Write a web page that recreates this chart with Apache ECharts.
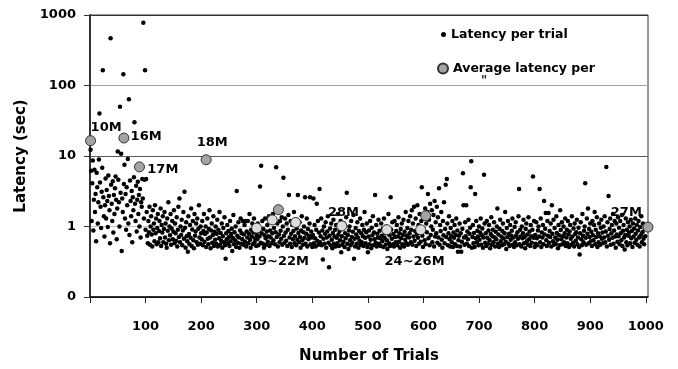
<!DOCTYPE html>
<html>
<head>
<meta charset="utf-8">
<script src="https://cdn.jsdelivr.net/npm/echarts@6/dist/echarts.min.js"></script>
<style>
html,body{margin:0;padding:0;background:#fff;}
#chart{width:678px;height:369px;}
</style>
</head>
<body>
<div id="chart"></div>
<script>
// Latency per trial (sec), trials 1..1000 in order
const latencyPerTrial = [
12.3,6.2,1.2,4.1,8.6,.88,2.4,6.4,1.6,2.9,.62,5.8,3.6,1.1,2.2,8.9,40,4.2,1.9,.95,3.1,6.8,164,2.6,1.4,
.72,2.0,4.8,1.3,3.3,2.3,.98,5.3,2.7,1.7,.58,468,3.9,2.1,1.2,4.4,.82,2.8,1.5,3.5,5.1,2.4,.66,1.8,11.6,
4.6,2.2,1.0,50,3.0,10.8,.45,2.5,1.6,144,4.0,7.5,1.3,2.9,.9,3.6,2.0,9.1,1.1,64,.76,4.5,2.3,1.4,3.2,
.6,2.6,1.7,5.0,30,2.1,1.2,3.8,.85,2.4,4.3,1.5,2.8,1.0,3.4,.7,2.2,1.9,4.7,2.5,775,1.3,4.6,164,.9,
4.7,1.6,.74,.58,1.2,.83,1.9,.55,1.0,1.4,.77,.52,1.7,.9,1.1,.62,2.0,.8,1.3,.56,.95,1.5,.6,.86,1.2,
.68,1.8,.53,1.05,.82,1.4,.6,.92,1.6,.7,1.1,.57,.5,1.3,.87,2.2,.64,1.0,.75,1.5,.55,.94,1.2,.66,.84,
1.7,.58,1.1,.8,.63,1.35,.52,.9,1.9,.71,2.5,.6,1.0,.76,1.25,.54,.88,1.6,.67,3.1,.96,.5,1.15,.73,.62,
.44,1.4,.78,.56,1.05,.69,1.8,.53,.91,1.2,.64,.49,1.5,.74,.85,1.1,.6,1.3,.55,.93,2.0,.7,.57,1.0,.8,
.66,1.2,.54,.86,1.5,.61,.78,1.0,.51,.82,1.3,.67,.56,.92,1.7,.7,.49,.88,1.1,.59,.76,1.4,.53,.84,.65,
1.0,.57,.79,1.25,.52,.9,.68,1.6,.55,.81,.63,1.1,.5,.73,.95,.6,1.35,.54,.35,.8,.66,1.05,.58,.86,.71,
.53,1.2,.62,.78,.93,.45,.69,1.45,.56,.83,.64,1.0,.51,3.2,.74,.59,1.15,.7,.5,.88,1.3,.57,.8,.66,1.2,
.55,.77,1.05,.61,1.2,.52,.85,.7,1.2,.58,.79,1.5,.65,.5,.9,.72,1.1,.56,.82,1.3,.6,.68,1.0,.53,.76,
.66,1.1,.54,.86,.72,3.7,.59,7.3,.8,1.2,.57,.92,.5,.75,1.3,.68,.55,.85,1.05,.61,.73,1.4,.53,.88,.7,
1.15,.58,.8,1.5,.64,.95,1.25,.56,.83,6.9,.71,1.1,.52,1.6,.77,.6,1.2,.87,.67,1.35,.55,1.0,4.9,.74,.59,
1.3,.82,.63,1.1,.53,.9,1.45,2.8,.7,.57,1.2,.79,.51,1.05,.66,.86,1.6,.58,.73,1.25,.54,.94,.65,2.8,.81,
.6,1.15,.71,.5,.88,1.4,.64,.55,.83,1.0,.69,2.6,.57,.79,1.3,.52,.92,.66,.74,1.1,2.6,.56,.85,.7,.51,
.76,2.5,.58,1.05,.68,.52,.9,2.1,.63,1.2,.55,.82,3.4,.6,.73,1.3,.54,.88,.34,.67,1.0,.57,.79,1.15,.5,
.7,.85,1.4,.59,.265,.74,.94,.54,1.1,.65,.49,.81,1.25,.57,.72,.9,.52,1.05,.69,.58,1.5,.77,.53,.86,.64,
1.2,.43,.73,.55,.92,.61,1.1,.51,.8,.68,1.35,3.0,.57,.76,.48,.88,1.0,.64,.54,1.2,.71,.59,.84,1.45,.35,
.67,.52,.95,.77,.57,1.15,.7,.5,.86,.63,1.3,.55,.8,.6,1.05,.73,.53,.9,1.6,.69,.58,.83,1.1,.51,.43,
.72,.88,.56,1.2,.65,.49,.96,.75,1.4,.54,.82,.66,2.8,.59,1.05,.52,.79,.7,1.25,.57,.87,.68,.53,1.1,.74,
.62,.93,.51,1.3,.69,.8,.55,1.0,.64,.48,.85,1.5,.58,.75,.53,2.6,.9,.67,1.15,.56,.78,.52,1.2,.71,.6,
.86,1.05,.54,.72,1.35,.61,.8,.5,.92,.68,1.1,.56,.76,1.25,.52,.84,.65,1.6,.58,.74,.95,.55,1.2,.7,.8,
1.4,.6,.9,1.7,.55,1.1,.72,1.9,.63,.86,1.3,.53,.78,2.0,.69,1.05,.57,1.5,.81,.61,1.2,3.6,.74,.51,.94,
1.3,.64,1.8,.56,1.1,.83,1.6,2.9,.68,1.25,.54,2.1,.76,1.0,1.7,.6,.9,1.45,.52,2.3,.72,1.15,.8,1.9,.59,
1.35,.7,3.5,.55,1.05,.86,1.6,.65,.5,1.2,.75,2.2,.58,.92,3.9,.71,4.7,1.1,.54,.8,1.4,.66,.52,.95,.73,
.6,1.2,.51,.82,.69,1.05,.56,.76,1.3,.53,.88,.44,.64,.74,1.1,.52,.8,.44,.61,.93,5.7,2.0,.7,.55,1.15,
.73,2.0,.57,.85,.66,1.25,.53,.79,.96,3.6,8.4,.5,.71,1.05,.58,.81,.51,2.9,.68,1.2,.6,.87,.72,.54,1.0,
.65,.82,1.3,.55,.75,.94,.5,.7,5.4,1.1,.59,.8,.53,1.2,.69,.57,.88,1.05,.64,.49,.78,1.35,.55,.73,.9,
.6,1.15,.7,.52,.84,.66,1.0,1.8,.57,.77,.51,.92,1.25,.62,.72,.54,.86,1.1,.68,.56,.8,1.6,.61,.48,.95,
.71,1.2,.57,.79,.53,1.05,.65,.74,.87,1.3,.55,.7,.51,.98,.6,1.15,.75,.54,.83,.67,1.4,3.4,.56,.9,.72,
.52,1.0,.68,.8,1.25,.58,.71,.49,.92,1.1,.62,.77,.55,1.35,.66,.85,.53,1.05,.73,.59,.9,5.1,.69,1.2,.51,
.76,.57,1.15,.68,.54,.88,1.0,.72,3.4,.6,1.3,.51,.82,.7,1.05,.56,2.3,.77,.93,1.55,.64,.53,1.2,.74,1.55,
.59,.86,.71,1.1,.52,2.0,.79,.62,1.25,.55,.95,.7,.57,1.4,.81,.65,.49,1.05,.75,.54,1.7,.89,.66,1.15,.56,
.73,1.0,.6,.8,1.3,.53,.7,.9,.58,1.2,.77,.51,.85,1.05,.67,.55,1.4,.72,.59,.94,.52,1.1,.78,.63,.83,
1.25,.56,.7,.96,.51,.4,.8,1.15,.66,.54,1.5,.74,.6,.87,1.0,4.1,.69,.55,1.3,.79,1.8,.58,.92,.71,1.1,
.62,.84,.53,1.2,.75,.64,1.05,1.6,.56,.9,.71,1.35,.51,.8,.6,1.1,.73,.55,.96,1.25,.67,.82,.58,1.0,.7,
1.4,.6,.85,7.0,.52,1.15,.74,2.7,.65,.92,1.3,.55,.8,1.05,.69,1.5,.57,.88,1.2,.72,.5,1.1,.77,.61,1.35,
.73,.96,.56,1.2,.8,.64,1.45,.53,.87,1.05,.7,.47,.76,1.3,.6,.9,.54,1.15,.74,.82,1.0,.58,1.25,.68,.86,
.51,1.1,.72,.94,.59,1.3,.79,.65,1.05,.55,.88,1.2,.7,.52,.98,.75,1.4,.6,.83,1.1,.67,.56,.92,.73,1.0
];

// Average latency per trial (darker markers)
const avgTrials = [1, 61, 89, 209, 339, 604, 1004];
const avgLatency = [16.5, 18.0, 7.0, 8.85, 1.73, 1.42, 0.98];
// Average latency per trial (lighter markers)
const avgTrialsLight = [300, 328, 370, 453, 534, 595];
const avgLatencyLight = [0.95, 1.24, 1.14, 1.02, 0.9, 0.9];

// Annotation labels and their anchor (trial, latency)
const noteTexts = ['10M', '16M', '17M', '18M', '19~22M', '28M', '24~26M', '27M'];
const noteTrials = [29, 101, 131, 220, 340, 456, 584, 965];
const noteLatency = [25.2, 18.8, 6.4, 15.5, 0.315, 1.566, 0.315, 1.566];

const xTickValues = [0, 100, 200, 300, 400, 500, 600, 700, 800, 900, 1000];
const xLabelValues = [100, 200, 300, 400, 500, 600, 700, 800, 900, 1000];
const yTickLabels = ['0', '1', '10', '100', '1000'];

const FONT = 'DejaVu Sans';
const chart = echarts.init(document.getElementById('chart'), null, {renderer: 'canvas'});

const trialData = latencyPerTrial.map((v, i) => [i + 1, v]);
const avgData = avgTrials.map((t, i) => [t, avgLatency[i]]);
const avgLightData = avgTrialsLight.map((t, i) => [t, avgLatencyLight[i]]);
const noteData = noteTexts.map((t, i) => ({value: [noteTrials[i], noteLatency[i]], name: t}));

const option = {
  animation: false,
  backgroundColor: '#fff',
  grid: {
    left: 90, right: 30, top: 15, bottom: 72,
    containLabel: false,
    show: true, borderColor: '#333', borderWidth: 1
  },
  legend: [
    {
      data: ['Latency per trial'],
      left: 436, top: 23,
      icon: 'circle', itemWidth: 5, itemHeight: 5,
      textStyle: {fontFamily: FONT, fontWeight: 'bold', fontSize: 12.5, color: '#000'}
    },
    {
      data: ['Average latency per trial'],
      left: 432, top: 57,
      icon: 'circle', itemWidth: 10, itemHeight: 10,
      formatter: () => 'Average latency per',
      textStyle: {fontFamily: FONT, fontWeight: 'bold', fontSize: 12.5, color: '#000'}
    }
  ],
  graphic: [
    {type: 'text', left: 481, top: 75, z: 10, style: {text: '"', font: 'bold 12px "DejaVu Sans"', fill: '#222'}}
  ],
  xAxis: {
    type: 'value', min: 0, max: 1004,
    name: 'Number of Trials', nameLocation: 'middle', nameGap: 52,
    nameTextStyle: {fontFamily: FONT, fontWeight: 'bold', fontSize: 15, color: '#000'},
    axisLine: {show: true, onZero: false, lineStyle: {color: '#111', width: 1.5}},
    axisTick: {show: true, length: 6, customValues: xTickValues, lineStyle: {color: '#222', width: 1}},
    axisLabel: {
      customValues: xLabelValues, margin: 23,
      formatter: v => String(v),
      fontFamily: FONT, fontWeight: 'bold', fontSize: 13, color: '#000'
    },
    splitLine: {show: false}
  },
  yAxis: {
    type: 'log', logBase: 10, min: 0.1, max: 1000,
    name: 'Latency (sec)', nameLocation: 'middle', nameGap: 56, nameRotate: 90,
    nameTextStyle: {fontFamily: FONT, fontWeight: 'bold', fontSize: 15, color: '#000'},
    axisLine: {show: true, lineStyle: {color: '#333', width: 2}},
    axisTick: {show: true, length: 6, lineStyle: {color: '#333', width: 1}},
    axisLabel: {
      margin: 14,
      fontFamily: FONT, fontWeight: 'bold', fontSize: 13, color: '#000',
      formatter: v => {
        const idx = Math.round(Math.log10(v)) + 1;
        return yTickLabels[idx] !== undefined ? yTickLabels[idx] : '';
      }
    },
    splitLine: {show: true, lineStyle: {color: ['#111', '#c4c4c4', '#5a5a5a', '#a0a0a0', '#333'], width: 1}}
  },
  series: [
    {
      name: 'Latency per trial', type: 'scatter', data: trialData,
      symbol: 'circle', symbolSize: 4.5,
      itemStyle: {color: '#000', opacity: 1}, z: 2
    },
    {
      name: 'Average latency per trial', type: 'scatter', data: avgData,
      symbol: 'circle', symbolSize: 10, clip: false,
      itemStyle: {color: '#a3a3a3', borderColor: '#333', borderWidth: 1, opacity: 1}, z: 4
    },
    {
      name: 'Average latency (light)', type: 'scatter', data: avgLightData,
      symbol: 'circle', symbolSize: 10,
      itemStyle: {color: '#dcdcdc', borderColor: '#333', borderWidth: 1, opacity: 1}, z: 4
    },
    {
      name: 'notes', type: 'scatter', data: noteData,
      symbolSize: 0, silent: true, z: 5,
      itemStyle: {opacity: 1},
      label: {
        show: true, position: [0, 0], align: 'center', verticalAlign: 'middle',
        formatter: p => p.name,
        fontFamily: FONT, fontWeight: 'bold', fontSize: 13, color: '#000',
        textBorderWidth: 0
      }
    }
  ]
};
chart.setOption(option);
</script>
</body>
</html>
